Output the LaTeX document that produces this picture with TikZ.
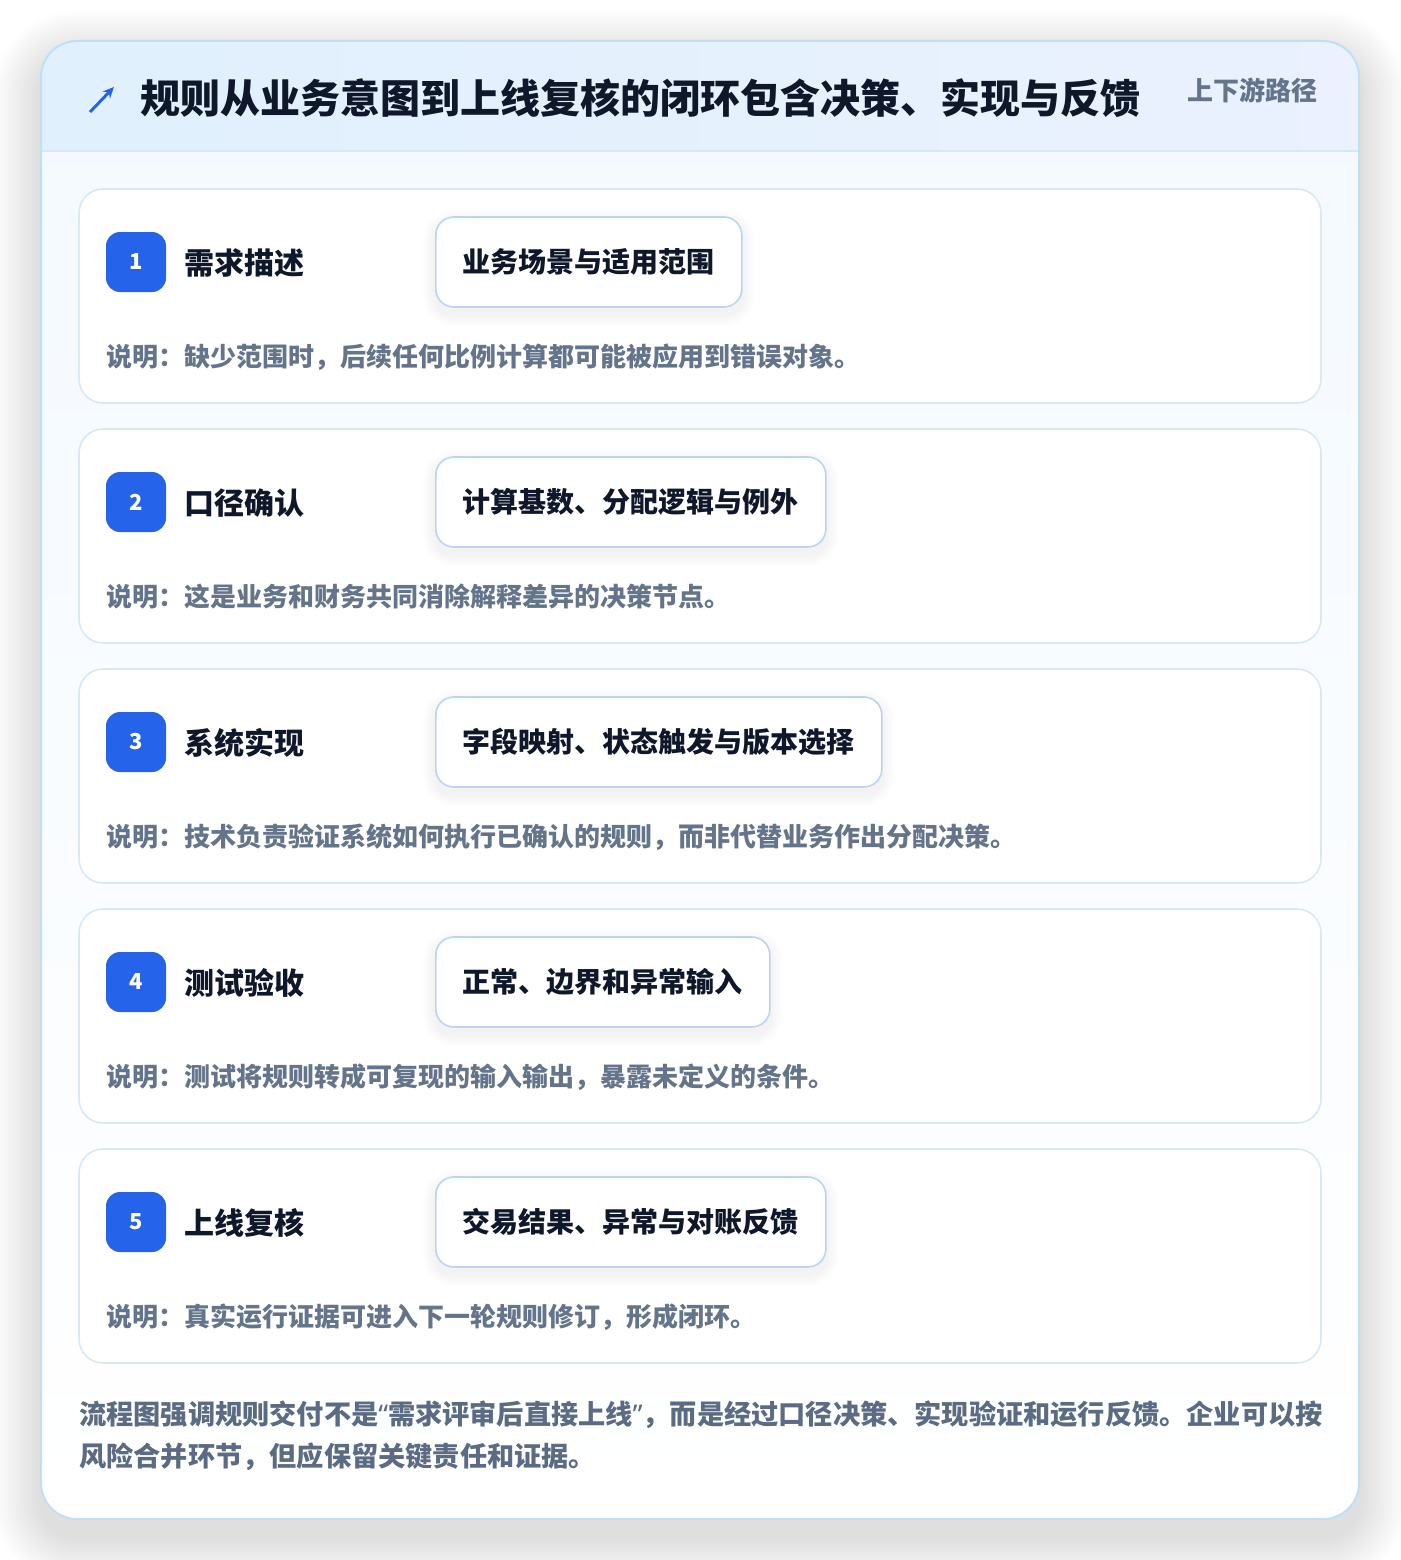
\documentclass[tikz,border=0pt]{standalone}
\usepackage{fontspec}
\setmainfont{Noto Sans CJK SC}
\newfontfamily\latinq{Noto Sans}
\usetikzlibrary{arrows.meta}
\definecolor{cardborder}{HTML}{BEE0F6}
\definecolor{headl}{HTML}{E0F0FD}
\definecolor{headr}{HTML}{EBF1FE}
\definecolor{headline}{HTML}{D3E8F8}
\definecolor{cardtop}{HTML}{F3F9FF}
\definecolor{stepborder}{HTML}{DAE8F6}
\definecolor{pillborder}{HTML}{BAD4F2}
\definecolor{badge}{HTML}{2563EB}
\definecolor{ink}{HTML}{0F172A}
\definecolor{muted}{HTML}{64748B}
\definecolor{foot}{HTML}{5B6B84}
\tikzset{
  stepcard/.style={draw=stepborder, line width=1.6pt, fill=white, rounded corners=24pt},
  badgebox/.style={fill=badge, rounded corners=14pt, minimum width=60pt, minimum height=60pt, inner sep=0pt, text=white, font=\fontsize{22}{26}\selectfont\bfseries},
  steptitle/.style={anchor=west, inner sep=0pt, text=ink, font=\fontsize{30}{36}\selectfont\bfseries},
  pill/.style={draw=pillborder, line width=1.6pt, fill=white, rounded corners=18pt, minimum height=90pt, inner xsep=27pt, text=ink, font=\fontsize{28}{34}\selectfont\bfseries},
  desc/.style={anchor=west, inner sep=0pt, text=muted, font=\fontsize{26}{30}\selectfont\bfseries},
  foottext/.style={anchor=west, inner sep=0pt, text=foot, font=\fontsize{27.2}{32}\selectfont\bfseries},
}
\begin{document}
\begin{tikzpicture}[x=1pt,y=-1pt]
\useasboundingbox (0,0) rectangle (1400,1560);
\fill[white] (0,0) rectangle (1400,1560);
% card shadow
\foreach \i in {1,...,16}{
  \fill[black, opacity=0.0068, rounded corners={36pt+\i*3pt}]
    ({41-\i*3},{41-\i*3+18}) rectangle ({1359+\i*3},{1519+\i*3+18});
}
% card
\path[top color=cardtop, bottom color=white, rounded corners=36pt] (41,41) rectangle (1359,1519);
\begin{scope}
  \clip[rounded corners=36pt] (41,41) rectangle (1359,1519);
  \shade[left color=headl, right color=headr] (41,41) rectangle (1359,151);
  \draw[headline, line width=1.6pt] (41,151) -- (1359,151);
\end{scope}
\draw[cardborder, line width=2pt, rounded corners=36pt] (41,41) rectangle (1359,1519);
% header
\coordinate (arrowfrom) at (90,112);
\coordinate (arrowto) at (114,87);
\draw[badge, line width=3pt, -{Stealth[length=11pt,width=10pt]}] (arrowfrom) -- (arrowto);
\node[anchor=west, inner sep=0pt, text=ink, font=\fontsize{40}{48}\selectfont\bfseries] (title) at (140,98) {规则从业务意图到上线复核的闭环包含决策、实现与反馈};
\node[anchor=east, inner sep=0pt, text=muted, font=\fontsize{26}{30}\selectfont\bfseries] (route) at (1318,90) {上下游路径};
% steps
\foreach \n/\t/\p/\d [count=\k from 0] in {
 1/需求描述/业务场景与适用范围/说明：缺少范围时，后续任何比例计算都可能被应用到错误对象。,
 2/口径确认/计算基数、分配逻辑与例外/说明：这是业务和财务共同消除解释差异的决策节点。,
 3/系统实现/字段映射、状态触发与版本选择/说明：技术负责验证系统如何执行已确认的规则，而非代替业务作出分配决策。,
 4/测试验收/正常、边界和异常输入/说明：测试将规则转成可复现的输入输出，暴露未定义的条件。,
 5/上线复核/交易结果、异常与对账反馈/说明：真实运行证据可进入下一轮规则修订，形成闭环。}{
  \pgfmathsetmacro{\top}{189+240*\k}
  \draw[stepcard] (79,\top) rectangle (1321,\top+214);
  \node[badgebox] (badge\n) at (136,\top+73) {\n};
  \node[steptitle] (name\n) at (184,\top+74) {\t};
  % pill shadow
  \node[anchor=west, pill, draw=none, fill=none, text opacity=0] (pillg\n) at (435,\top+73) {\p};
  \foreach \j in {1,...,6}{
    \fill[black, opacity=0.008, rounded corners={18pt+\j*2pt}]
      ([xshift={-\j*2pt}, yshift={-\j*2pt-6pt}]pillg\n.south west) rectangle ([xshift={\j*2pt}, yshift={\j*2pt-6pt}]pillg\n.north east);
  }
  \node[anchor=west, pill] (pill\n) at (435,\top+73) {\p};
  \node[desc] (desc\n) at (106,\top+168) {\d};
}
% footer
\node[foottext] (foot1) at (79,1415) {流程图强调规则交付不是{\latinq “}需求评审后直接上线{\latinq ”}，而是经过口径决策、实现验证和运行反馈。企业可以按};
\node[foottext] (foot2) at (79,1457) {风险合并环节，但应保留关键责任和证据。};
\end{tikzpicture}
\end{document}
